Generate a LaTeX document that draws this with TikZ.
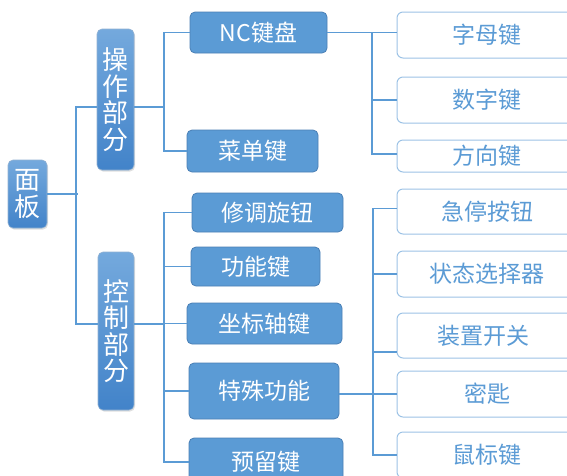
\documentclass[tikz,border=0pt]{standalone}
\usepackage{fontspec}
\setmainfont{Noto Sans CJK SC}
\usetikzlibrary{shadows}
\definecolor{dk}{HTML}{5B9BD5}
\definecolor{dkb}{HTML}{4A7FB5}
\definecolor{lb}{HTML}{9DC3E6}
\definecolor{lt}{HTML}{5B9BD5}
\definecolor{ln}{HTML}{5B9BD5}
\definecolor{gtop}{HTML}{74A9DD}
\definecolor{gbot}{HTML}{4283C9}
\tikzset{
  dbox/.style={draw=dkb, fill=dk, rounded corners=5pt, text=white, inner sep=0pt,
    line width=0.8pt, font=\fontsize{23}{26}\selectfont},
  lbox/.style={draw=lb, fill=white, rounded corners=6pt, text=lt, inner sep=0pt,
    line width=1pt, minimum width=180pt, font=\fontsize{23}{26}\selectfont},
  vbox/.style={draw=dkb!60, top color=gtop, bottom color=gbot, rounded corners=5pt,
    text=white, inner sep=0pt, align=center, line width=0.6pt,
    drop shadow={opacity=0.25, shadow xshift=1pt, shadow yshift=-1.5pt},
    font=\fontsize{26}{26.5}\selectfont},
  conn/.style={draw=ln, line width=1.4pt}
}
\begin{document}
\begin{tikzpicture}[x=1pt,y=-1pt]
\clip (0,0) rectangle (567,475);
\fill[white] (0,0) rectangle (567,475);
% vertical boxes
\node[vbox, minimum width=39pt, minimum height=68pt] (mb) at (27.5,194) {面\\板};
\node[vbox, minimum width=37pt, minimum height=141pt] (op) at (115.5,99.5) {操\\作\\部\\分};
\node[vbox, minimum width=36pt, minimum height=158pt] (ct) at (116,331) {控\\制\\部\\分};
% dark boxes
\node[dbox, minimum width=137pt, minimum height=41pt] (nc) at (258.5,32.5) {NC键盘};
\node[dbox, minimum width=131pt, minimum height=42pt] (menu) at (252.5,151) {菜单键};
\node[dbox, minimum width=151pt, minimum height=39pt] (xt) at (267.5,212.5) {修调旋钮};
\node[dbox, minimum width=129pt, minimum height=39pt] (gn) at (255.5,266.5) {功能键};
\node[dbox, minimum width=155pt, minimum height=41pt] (zb) at (264.5,323.5) {坐标轴键};
\node[dbox, minimum width=150pt, minimum height=56pt] (ts) at (264,391) {特殊功能};
\node[dbox, minimum width=154pt, minimum height=48pt] (yl) at (266,462) {\raisebox{2pt}{预留键}};
% light boxes
\node[lbox, minimum height=46pt] (a1) at (487,35) {\raisebox{1pt}{字母键}};
\node[lbox, minimum height=46pt] (a2) at (487,100) {数字键};
\node[lbox, minimum height=32pt] (a3) at (487,156) {\raisebox{-2pt}{方向键}};
\node[lbox, minimum height=45pt] (b1) at (487,211.5) {急停按钮};
\node[lbox, minimum height=46pt] (b2) at (487,274) {状态选择器};
\node[lbox, minimum height=45pt] (b3) at (487,335.5) {\hspace*{-8pt}\raisebox{-2.5pt}{装置开关}};
\node[lbox, minimum height=46pt] (b4) at (487,394) {\raisebox{-3pt}{密匙}};
\node[lbox, minimum height=46pt] (b5) at (487,455) {\raisebox{3pt}{鼠标键}};
% junctions
\coordinate (j0) at (76,194);
\coordinate (j0a) at (76,107);
\coordinate (j0b) at (76,324);
\coordinate (j1) at (164,107);
\coordinate (j2) at (372,32.5);
\coordinate (j3) at (164,324);
\coordinate (j4) at (373,394);
% connectors
\draw[conn] (mb.east |- j0) -- ([xshift=2pt]j0);
\draw[conn] (op.west |- j0a) -- (j0a) -- (j0b) -- (ct.west |- j0b);
\draw[conn] (op.east |- j1) -- (j1);
\draw[conn] (j1) |- (nc.west);
\draw[conn] (j1) |- (menu.west);
\draw[conn] (nc.east) -- (nc.east -| a1.west);
\draw[conn] (j2) |- (a2.west);
\draw[conn] (j2) |- ([yshift=2pt]a3.west);
\draw[conn] (ct.east |- j3) -- (j3);
\draw[conn] (j3) |- (xt.west);
\draw[conn] (j3) |- (gn.west);
\draw[conn] (j3) |- (zb.west);
\draw[conn] (j3) |- (ts.west);
\draw[conn] (j3) |- (yl.west);
\draw[conn] (ts.east |- j4) -- (j4 -| b4.west);
\draw[conn] (j4) |- ([yshift=3pt]b1.west);
\draw[conn] (j4) |- (b2.west);
\draw[conn] (j4) |- ([yshift=-16.5pt]b3.west);
\draw[conn] (j4) |- (b5.west);
\end{tikzpicture}
\end{document}
